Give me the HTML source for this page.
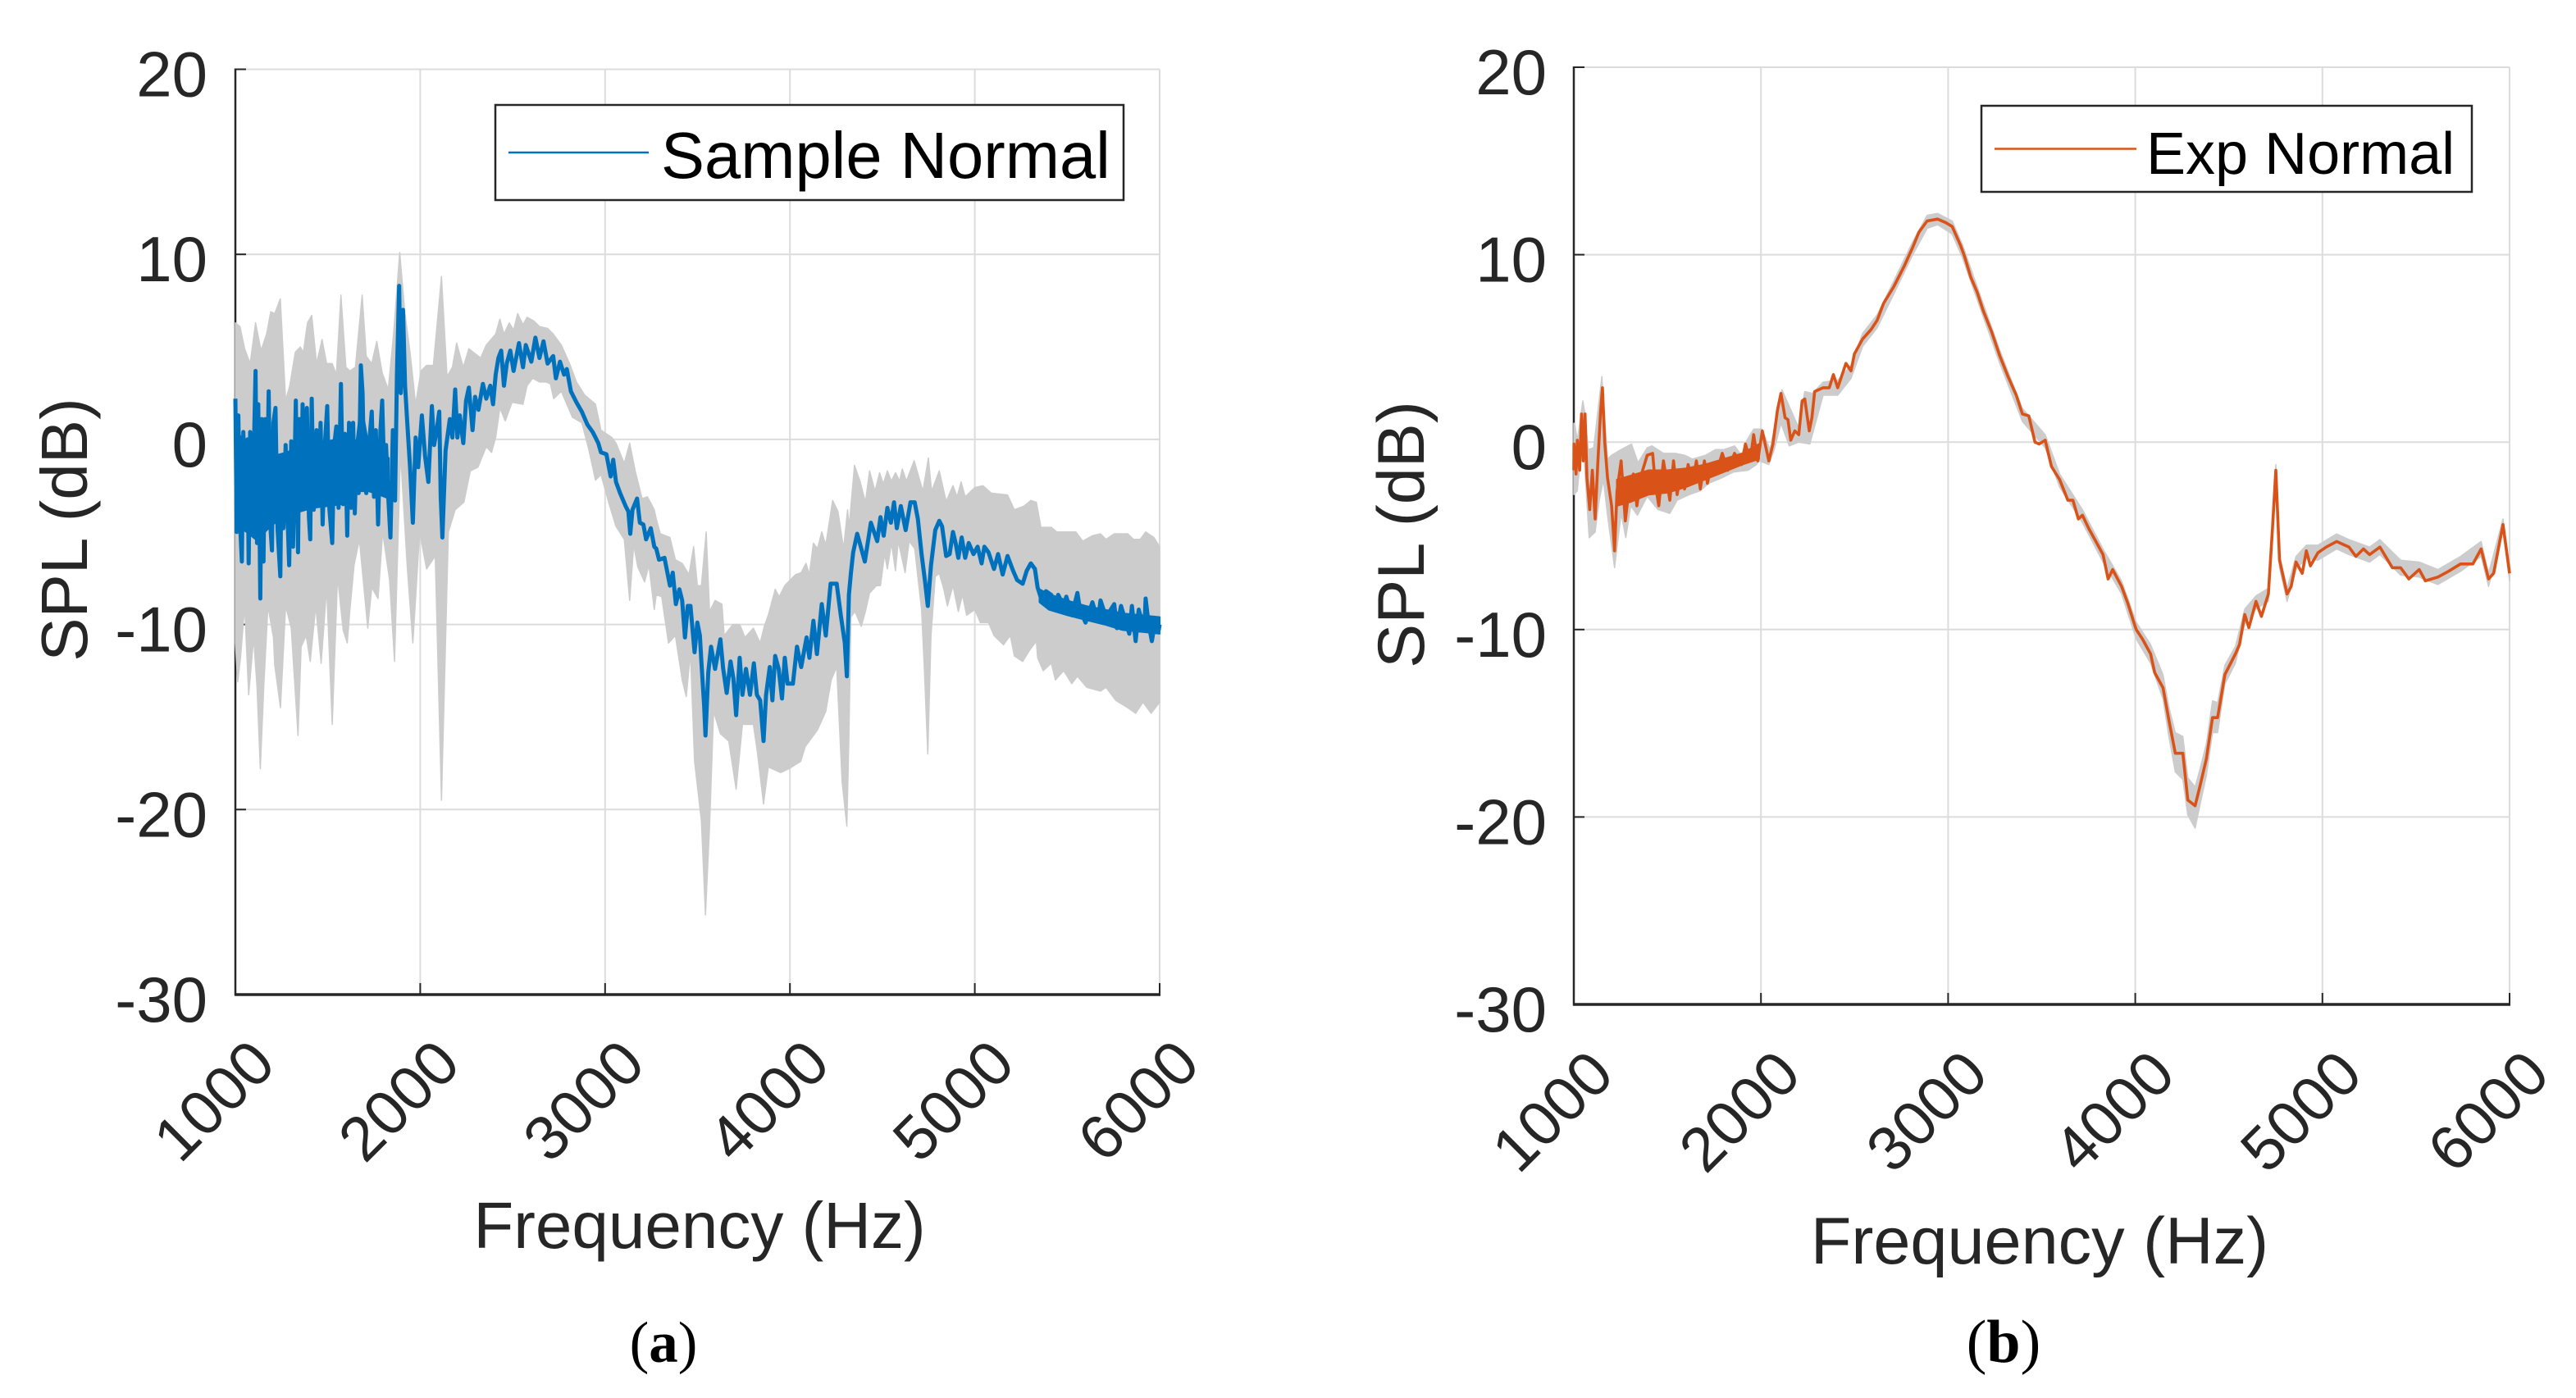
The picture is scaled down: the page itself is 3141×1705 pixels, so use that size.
<!DOCTYPE html>
<html>
<head>
<meta charset="utf-8">
<title>SPL frequency response charts</title>
<style>
html,body{margin:0;padding:0;background:#fff;}
svg{display:block;}
text{font-family:"Liberation Sans",Arial,sans-serif;fill:#262626;}
.cap{font-family:"Liberation Serif","Times New Roman",serif;fill:#000;}
</style>
</head>
<body>
<svg id="figure" width="3141" height="1705" viewBox="0 0 3141 1705" xmlns="http://www.w3.org/2000/svg">
  <rect x="0" y="0" width="3141" height="1705" fill="#ffffff"/>
  <g id="panelA"></g>
  <g id="panelB"></g>

  <g>
    <rect x="604" y="128" width="766" height="116" fill="#fff" stroke="#262626" stroke-width="2.5"/>
    <line x1="620" y1="186" x2="791" y2="186" stroke="#0072BD" stroke-width="2.5"/>
    <text x="806" y="217" font-size="79.5" style="fill:#000">Sample Normal</text>
  </g>
  <g>
    <rect x="2416" y="129" width="598" height="105" fill="#fff" stroke="#262626" stroke-width="2.5"/>
    <line x1="2432" y1="181.5" x2="2605" y2="181.5" stroke="#D95319" stroke-width="2.5"/>
    <text x="2617" y="212" font-size="72" style="fill:#000">Exp Normal</text>
  </g>

  <text transform="translate(106,646) rotate(-90)" text-anchor="middle" font-size="80">SPL (dB)</text>
  <text x="853" y="1522" text-anchor="middle" font-size="80">Frequency (Hz)</text>
  <text transform="translate(1736,652) rotate(-90)" text-anchor="middle" font-size="81">SPL (dB)</text>
  <text x="2487" y="1541" text-anchor="middle" font-size="81">Frequency (Hz)</text>

  <text class="cap" x="809" y="1661" text-anchor="middle" font-size="71">(<tspan font-weight="bold">a</tspan>)</text>
  <text class="cap" x="2443" y="1661" text-anchor="middle" font-size="74">(<tspan font-weight="bold">b</tspan>)</text>
</svg>
<script>
var xTickValues = [1000, 2000, 3000, 4000, 5000, 6000];
var yTickValues = [20, 10, 0, -10, -20, -30];

var freqA = [1000,1007,1016,1025,1035,1043,1055,1065,1072,1080,1090,1099,1109,1117,1124,1135,1143,1152,1161,1170,1180,1191,1198,1206,1217,1228,1243,1250,1260,1272,1282,1291,1302,1312,1327,1339,1346,1356,1364,1374,1387,1398,1405,1413,1424,1439,1450,1461,1472,1484,1497,1509,1524,1535,1546,1558,1571,1583,1593,1605,1615,1627,1637,1646,1657,1667,1679,1688,1697,1708,1723,1738,1750,1760,1772,1785,1794,1805,1815,1827,1839,1852,1864,1874,1886,1895,1907,1918,1930,1945,1960,1975,1989,2009,2026,2044,2063,2075,2089,2103,2111,2120,2137,2160,2174,2189,2201,2214,2233,2248,2263,
2283,2297,2315,2339,2357,2379,2394,2408,2423,2438,2453,2468,2487,2505,2534,2556,2571,2601,2623,2645,2667,2689,2719,2734,2756,2778,2793,2815,2845,2874,2904,2933,2948,2963,2978,3007,3030,3044,3059,3081,3111,3126,3136,3148,3173,3188,3207,3222,3247,3266,
3277,3292,3321,3351,3366,3383,3402,3417,3432,3447,3462,3484,3499,3513,3521,3536,3543,3558,3573,3595,3624,3639,3658,3679,3694,3709,3728,3743,3762,3784,3805,3821,3839,3857,3871,3891,3905,3920,3939,3957,3972,3987,4016,4038,4061,4090,4105,4127,4146,4172,4194,4220,4253,4275,4297,4308,4319,4330,4342,4364,4386,4405,4438,4472,4490,4507,4527,4546,4563,4578,4600,
4626,4652,4675,4692,4712,4731,4746,4763,4786,4808,4823,4845,4864,4882,4896,4911,4929,4948,4967,4993,5015,5037,5052,5074,5104,5126,5151,5177,5207,5229,5259,5281,5303,5325,5340,5362,5385,5414,5436,5451,5481,5495,5525,5555,5569,5599,5636,5666,5680,5710,5754,5769,5791,5836,5850,5870,5887,5917,5924,5939,5958,5976,5995,6000];
var meanA = [2.2,-5.0,1.3,-4.4,-6.6,0.4,-4.6,0.0,-6.7,0.4,-5.0,-1.1,3.7,-5.6,1.9,-8.6,1.1,-6.6,1.1,-4.2,2.6,-5.0,-6.0,0.9,1.7,-4.8,-7.4,-0.9,-4.8,-0.3,-4.2,-6.8,-0.1,-5.8,2.1,-6.1,1.1,-3.1,1.9,-3.7,1.7,-4.2,-5.4,2.2,-3.8,0.5,-3.5,0.9,-4.6,-0.3,1.8,-3.8,-5.6,-0.3,0.7,-3.7,3.0,-3.5,0.3,-5.2,0.9,-3.7,0.9,-4.0,-0.1,-2.9,4.0,2.5,-2.1,-2.9,-0.3,1.5,-3.1,0.5,-4.6,0.5,2.1,-1.7,-0.3,-3.1,-5.3,0.5,-3.3,3.5,8.3,2.5,7.0,2.9,0.9,-1.5,-4.5,0.1,-1.5,1.3,-0.9,-2.3,1.8,-0.3,0.5,1.5,-3.1,-5.3,-0.6,1.1,0.1,2.7,0.1,1.3,-0.2,2.1,2.8,
0.5,2.3,1.6,3.0,2.2,2.9,1.9,3.5,4.4,4.8,2.9,4.1,4.8,3.7,5.2,3.9,5.1,4.2,5.5,4.4,5.3,4.1,4.5,3.3,4.2,3.5,3.8,2.6,2.0,1.5,0.8,0.4,0.1,-0.2,-0.7,-0.8,-2.0,-1.1,-2.3,-2.9,-3.6,-3.9,-5.1,-3.8,-3.2,-4.5,-4.6,-5.4,-4.8,-5.8,
-5.9,-6.5,-6.4,-7.9,-7.2,-8.9,-8.1,-8.7,-10.7,-9.0,-9.0,-11.5,-9.9,-10.6,-12.0,-14.4,-16.0,-12.6,-11.2,-12.4,-10.8,-12.4,-13.7,-12.0,-12.9,-14.9,-11.8,-13.8,-12.4,-13.8,-12.1,-13.8,-14.1,-16.3,-13.8,-12.3,-14.1,-11.7,-12.4,-14.0,-11.8,-13.2,-13.2,-11.2,-12.3,-10.7,-11.8,-9.8,-11.6,-8.9,-10.6,-7.8,-7.8,-9.5,-11.0,-12.8,-8.4,-7.2,-6.1,-5.1,-5.9,-6.6,-4.5,-5.5,-4.2,-5.2,-3.7,-4.5,-3.4,-4.8,-3.6,
-4.9,-3.4,-3.4,-4.3,-6.2,-7.7,-9.0,-6.8,-4.9,-4.4,-4.7,-6.3,-6.2,-5.0,-5.6,-6.4,-5.3,-6.4,-5.6,-6.2,-5.8,-6.7,-5.8,-6.1,-7.0,-6.2,-7.3,-6.3,-7.1,-7.6,-7.8,-7.1,-6.7,-7.0,-8.0,-8.7,-8.2,-8.4,-9.2,-8.4,-9.0,-8.5,-9.5,-8.3,-9.2,-9.9,-8.8,-9.8,-8.7,-9.6,-8.9,-10.2,-9.0,-10.5,-9.0,-10.9,-9.2,-10.3,-8.6,-9.9,-10.9,-9.8,-10.3,-10.0];

var coreLowFreqA = [1000,1060,1110,1160,1200,1280,1350,1420,1500,1580,1650,1680,1720,1780,1830];
var coreLowUpperA = [0.5,-0.2,-0.6,-1.1,-0.9,-0.7,-0.3,-0.3,-0.1,0.1,-0.5,2.0,-0.3,-0.6,-1.0];
var coreLowLowerA = [-4.6,-5.0,-5.4,-5.0,-4.6,-4.2,-3.9,-3.7,-3.6,-3.5,-2.8,-2.8,-2.8,-3.0,-3.2];

var coreHighFreqA = [5350,5400,5500,5600,5700,5800,5900,6000];
var coreHighUpperA = [-8.1,-8.35,-8.7,-9.0,-9.2,-9.4,-9.5,-9.6];
var coreHighLowerA = [-8.8,-9.2,-9.5,-9.75,-10.0,-10.3,-10.4,-10.5];

var upperFreqA = [1000,1025,1050,1080,1109,1139,1169,1191,1213,1243,1272,1294,1324,1351,1368,1390,1413,1439,1469,1494,1524,1546,1571,1598,1620,1649,1686,1708,1738,1765,1794,1827,1856,1889,1916,1945,1975,2004,2034,2071,2115,2145,2174,2197,2233,2263,
2327,2357,2408,2431,2453,2482,2505,2527,2556,2578,2615,2645,2689,2719,2763,2808,2845,2889,2948,2978,3037,3059,3104,3133,3163,3200,3229,3266,
3277,3299,3351,3380,3417,3454,3479,3499,3521,3547,3565,3595,3632,3644,3691,3728,3757,3802,3839,3861,3883,3920,3942,3972,4031,4061,4087,4105,4127,4149,4172,4194,4231,4260,4290,4312,
4320,4349,4379,4408,4431,4460,4485,4505,4527,4549,4571,4593,4608,4630,4672,4719,4749,4766,4808,4845,4882,4904,4926,4948,5000,5044,5089,5177,5214,5266,5303,5333,5358,5414,5444,5495,5547,5584,5636,5680,5710,5754,5828,5858,5895,5924,5969,6000];
var upperA = [6.3,6.1,4.9,4.1,6.3,4.8,5.7,6.9,6.8,7.6,2.1,2.9,4.7,5.0,4.7,6.3,6.7,4.1,5.4,4.1,4.1,3.5,7.8,3.9,3.7,3.9,7.8,4.5,4.1,5.3,3.6,2.7,5.7,10.1,6.9,4.7,1.9,3.7,4.0,4.0,8.8,3.4,3.9,5.2,3.9,4.9,
4.4,5.1,5.7,6.5,5.7,6.3,5.9,6.8,6.2,6.6,6.4,6.1,6.0,5.7,5.1,4.1,3.1,2.4,1.9,0.5,0.1,-0.2,-1.3,-0.2,-1.7,-3.2,-3.1,-3.8,
-4.3,-5.1,-5.3,-6.5,-6.7,-7.3,-5.8,-7.9,-7.9,-5.0,-9.3,-8.7,-8.9,-10.6,-10.0,-10.0,-10.7,-10.2,-11.0,-10.1,-9.5,-8.1,-8.5,-7.9,-7.3,-7.2,-6.7,-7.3,-5.6,-5.9,-5.0,-5.7,-3.3,-3.9,-5.9,-3.8,
-4.75,-1.4,-2.25,-3.4,-1.7,-2.8,-1.8,-2.4,-1.7,-2.25,-1.8,-2.25,-1.6,-2.25,-1.15,-2.8,-1.0,-2.8,-1.7,-3.35,-2.5,-3.1,-2.3,-3.1,-2.6,-2.5,-2.9,-3.0,-3.8,-3.6,-3.3,-3.4,-4.75,-4.75,-5.0,-5.0,-5.0,-5.5,-5.2,-5.1,-5.4,-5.1,-5.1,-5.4,-5.4,-5.0,-5.3,-5.8];

var lowerFreqA = [1000,1013,1028,1050,1072,1099,1117,1135,1154,1176,1206,1213,1244,1272,1302,1339,1356,1383,1405,1435,1464,1494,1524,1553,1583,1605,1620,1642,1671,1716,1738,1772,1797,1834,1861,1893,1930,1960,1997,2034,2081,2115,2152,2189,2236,2271,
2312,2357,2386,2408,2431,2460,2497,2556,2578,2608,2645,2682,2704,2722,2763,2793,2823,2874,2911,2948,2978,3022,3059,3104,3133,3155,3177,3214,3237,3266,
3277,3306,3343,3380,3417,3439,3462,3484,3521,3543,3565,3587,3624,3669,3709,3743,3802,3824,3857,3883,3950,3994,4058,4083,4149,4194,4223,4253,4282,4308,4319,4330,
4352,4386,4408,4431,4468,4490,4512,4527,4549,4571,4586,4623,4645,4675,4712,4726,4746,4763,4786,4808,4830,4852,4882,4911,4933,4956,5000,5030,5074,5104,5155,5192,5214,5259,5296,5333,5340,5370,5414,5436,5481,5525,5555,5606,5680,5710,5762,5828,5870,5910,5954,6000];
var lowerA = [-11.0,-13.1,-11.8,-9.0,-13.8,-10.7,-13.4,-17.8,-13.3,-9.0,-10.7,-12.2,-14.5,-9.0,-10.2,-16.0,-11.2,-10.6,-12.0,-9.0,-12.1,-8.0,-15.4,-7.4,-10.3,-11.0,-9.2,-6.8,-5.4,-10.2,-8.0,-8.6,-5.0,-7.6,-12.0,-0.7,-6.9,-11.0,-5.0,-7.0,-6.3,-19.5,-5.0,-3.8,-3.4,-1.7,
-1.5,-0.4,-0.7,0.1,1.7,1.0,2.0,1.9,2.9,3.3,3.1,3.1,3.0,2.2,2.6,1.9,1.2,0.9,-0.5,-2.2,-1.9,-3.5,-4.7,-5.4,-8.7,-5.7,-6.9,-7.7,-6.8,-9.2,
-8.4,-8.5,-11.0,-10.6,-13.0,-13.9,-11.5,-17.4,-20.6,-25.7,-20.9,-14.7,-15.9,-16.3,-18.9,-15.4,-15.4,-16.9,-19.7,-17.7,-18.0,-17.8,-17.4,-16.6,-15.7,-14.7,-13.0,-12.3,-18.5,-20.9,-16.1,-9.6,
-9.3,-10.1,-9.3,-8.3,-7.9,-7.9,-6.2,-7.0,-5.6,-7.1,-5.5,-7.2,-5.5,-5.9,-9.2,-12.1,-17.0,-10.6,-7.4,-7.25,-8.0,-9.0,-7.9,-9.3,-8.4,-9.5,-9.2,-9.9,-9.9,-10.6,-11.1,-10.6,-11.7,-12.0,-11.4,-10.9,-11.8,-12.5,-12.1,-13.0,-12.5,-13.2,-12.8,-13.4,-13.6,-13.4,-14.1,-14.5,-14.8,-14.2,-14.8,-14.2];

var freqB = [1000,1001,1012,1019,1031,1041,1051,1060,1070,1085,1099,1114,1129,1143,1153,1165,1180,1202,1218,1231,1253,1275,1297,1318,1337,1362,1392,1421,1435,1454,1479,1513,1533,1552,1574,1592,1611,1633,1655,1676,1698,1714,1735,1764,1793,1823,1859,1896,1917,1942,1961,1983,2007,2042,2064,2088,2107,2129,2144,2159,2181,2202,2220,2234,2258,2272,2287,2332,2365,2387,2410,2454,2481,2499,2543,2588,2621,2655,2710,2766,2811,2844,2888,2944,2989,3022,
3066,3088,3121,3155,3188,3232,3276,3320,3364,3397,3431,3464,3486,3519,3552,3596,3640,3667,3696,3718,3751,3795,3828,3855,3879,3927,3960,4005,4038,4082,4104,4148,4181,4214,4254,4281,4320,4347,4380,4413,4440,4479,4535,4557,4585,4607,4645,4674,4711,4733,4751,4771,4811,4833,4859,4892,4914,4936,4976,5020,5076,5142,5179,5219,5252,5307,5374,5418,5462,5517,5550,5617,5672,5738,5804,5848,5888,5915,5965,6000];
var meanB = [-1.5,-0.1,-1.7,0.1,-1.5,1.5,-1.0,1.5,-1.9,-3.6,-1.5,-4.1,-1.0,1.6,2.9,0.0,-1.9,-3.4,-5.8,-2.6,-1.0,-4.2,-2.3,-1.7,-3.4,-1.7,-0.7,-0.6,-2.2,-3.4,-1.0,-3.1,-1.0,-2.8,-1.5,-2.5,-1.2,-2.2,-1.0,-2.5,-1.0,-2.2,-1.2,-1.6,-0.6,-1.5,-0.6,-1.2,-0.1,-1.0,0.4,-1.0,0.6,-1.0,-0.1,1.7,2.6,1.3,1.2,0.1,0.6,0.4,2.2,2.3,0.6,1.3,2.7,2.9,2.9,3.6,2.9,4.2,3.8,4.7,5.5,6.0,6.5,7.4,8.3,9.4,10.4,11.2,11.8,11.9,11.7,11.5,
10.5,9.9,8.8,8.0,7.0,5.9,4.6,3.5,2.5,1.5,1.4,0.0,-0.1,0.1,-1.3,-2.0,-3.1,-3.1,-4.1,-3.9,-4.6,-5.4,-6.0,-7.3,-6.8,-7.7,-8.6,-10.0,-10.5,-11.3,-12.3,-13.1,-14.9,-16.6,-16.6,-19.1,-19.4,-18.3,-16.9,-14.7,-14.7,-12.4,-11.3,-10.8,-9.2,-9.9,-8.5,-9.3,-8.1,-4.6,-1.5,-6.3,-8.1,-7.7,-6.4,-7.0,-5.8,-6.6,-5.9,-5.6,-5.3,-5.6,-6.1,-5.7,-6.0,-5.6,-6.7,-6.7,-7.3,-6.8,-7.4,-7.2,-6.9,-6.5,-6.5,-5.7,-7.3,-7.0,-4.4,-7.0];

var coreFreqB = [1230,1300,1400,1500,1600,1700,1800,1900,1990];
var coreUpperB = [-2.0,-1.8,-1.5,-1.5,-1.4,-1.2,-0.9,-0.6,-0.1];
var coreLowerB = [-3.4,-3.2,-2.8,-2.7,-2.4,-2.0,-1.6,-1.2,-0.9];

var upperFreqB = [1000,1004,1019,1048,1060,1077,1106,1150,1180,1202,1253,1308,1343,1392,1417,1479,1542,1592,1633,1705,1757,1801,1859,1896,1925,1961,2005,2049,2085,2112,2200,2234,2275,2332,2410,2481,2543,2621,2710,2811,2888,2944,3022,3078,3155,3276,3397,3519,3596,3718,3828,3927,4005,4082,4148,4181,4214,4254,4281,4320,4347,4380,4413,4440,4479,4535,4585,4645,4711,4733,4751,4771,4811,4859,4914,4976,5076,5142,5252,5307,5418,5517,5617,5738,5848,5888,5965,6000];
var upperB = [1.0,1.0,0.1,2.2,1.5,-0.4,-0.3,3.5,-0.9,-0.7,-0.4,-0.1,-1.1,-0.3,-0.2,-0.6,-0.6,-0.7,-0.9,-0.7,-0.4,-0.4,-0.2,-0.7,0.1,0.7,0.7,-0.4,1.5,2.8,0.8,2.7,2.6,3.2,3.3,4.1,5.8,6.8,8.6,10.7,12.1,12.2,11.8,10.5,8.3,4.9,1.8,0.4,-1.7,-3.6,-5.7,-7.4,-9.6,-10.8,-12.4,-14.2,-15.5,-15.7,-17.9,-18.4,-17.4,-16.1,-13.8,-13.9,-11.9,-10.9,-8.9,-8.2,-7.8,-4.3,-1.2,-6.0,-7.8,-6.1,-5.5,-5.5,-4.9,-5.2,-5.6,-5.2,-6.3,-6.4,-6.8,-6.1,-5.3,-7.0,-4.1,-6.7];

var lowerFreqB = [1000,1019,1034,1056,1082,1114,1136,1158,1180,1218,1253,1278,1304,1340,1392,1450,1513,1552,1618,1676,1720,1793,1852,1932,1976,1991,2042,2071,2107,2151,2202,2261,2332,2410,2481,2543,2621,2710,2811,2888,2944,3022,3078,3155,3276,3397,3519,3596,3718,3828,3927,4005,4082,4148,4181,4214,4254,4281,4320,4347,4380,4413,4440,4479,4535,4585,4645,4711,4733,4751,4771,4811,4859,4914,4976,5076,5142,5252,5307,5418,5517,5617,5738,5848,5888,5965,6000];
var lowerB = [-2.8,-2.6,-1.0,-1.0,-5.1,-4.8,-3.1,-2.0,-3.9,-6.7,-3.8,-5.1,-3.4,-3.9,-2.9,-3.6,-3.8,-3.1,-2.8,-2.6,-2.2,-1.9,-1.6,-1.5,-1.2,-1.0,-1.2,-0.4,1.0,-0.2,0.0,-0.1,2.5,2.5,3.4,5.1,6.1,7.9,10.0,11.4,11.6,11.1,9.8,7.6,4.2,1.1,-0.3,-2.4,-4.3,-6.4,-8.1,-10.5,-11.8,-13.7,-15.8,-17.6,-18.0,-19.9,-20.6,-19.3,-17.8,-15.5,-15.5,-12.9,-11.8,-9.7,-8.9,-8.5,-5.0,-2.2,-6.7,-8.5,-6.8,-6.2,-6.3,-5.7,-6.0,-6.4,-6.0,-7.1,-7.2,-7.6,-6.9,-6.1,-7.7,-4.7,-7.4];

var NS = 'http://www.w3.org/2000/svg';

function makeEl(tag, attrs, parent) {
  var el = document.createElementNS(NS, tag);
  for (var k in attrs) { el.setAttribute(k, attrs[k]); }
  parent.appendChild(el);
  return el;
}

function linePath(fx, fy, xs, ys) {
  var d = '';
  for (var i = 0; i < xs.length; i++) {
    d += (i ? 'L' : 'M') + fx(xs[i]).toFixed(1) + ' ' + fy(ys[i]).toFixed(1);
  }
  return d;
}

function bandPath(fx, fy, upX, upY, loX, loY) {
  var upperD = linePath(fx, fy, upX, upY);
  var lowerD = linePath(fx, fy, loX.slice().reverse(), loY.slice().reverse()).replace('M', 'L');
  return upperD + lowerD + 'Z';
}

function drawPanel(root, cfg) {
  var fx = function (v) { return cfg.left + (v - 1000) / 5000 * (cfg.right - cfg.left); };
  var fy = function (v) { return cfg.top + (20 - v) / 50 * (cfg.bottom - cfg.top); };
  var el;

  xTickValues.forEach(function (v) {
    var grid = makeEl('line', { x1: fx(v), x2: fx(v), y1: cfg.top, y2: cfg.bottom, stroke: '#dcdcdc', 'stroke-width': 2 }, root);
    
    
  });
  yTickValues.forEach(function (v) {
    var grid = makeEl('line', { x1: cfg.left, x2: cfg.right, y1: fy(v), y2: fy(v), stroke: '#dcdcdc', 'stroke-width': 2 }, root);
    
    
  });

  el = makeEl('line', { x1: cfg.left, x2: cfg.left, y1: cfg.top - 1, y2: cfg.bottom + 1, stroke: '#262626', 'stroke-width': 2.5 }, root);
  
  
  el = makeEl('line', { x1: cfg.left - 1, x2: cfg.right + 1, y1: cfg.bottom, y2: cfg.bottom, stroke: '#262626', 'stroke-width': 3.5 }, root);
  
  

  xTickValues.forEach(function (v) {
    var tick = makeEl('line', { x1: fx(v), x2: fx(v), y1: cfg.bottom, y2: cfg.bottom - 14, stroke: '#262626', 'stroke-width': 2 }, root);
    
    
    var label = makeEl('text', { transform: 'translate(' + (fx(v) + 52) + ',' + cfg.xLabelY + ') rotate(-45)', 'text-anchor': 'end', 'font-size': 76 }, root);
    
    
    label.textContent = String(v);
  });
  yTickValues.forEach(function (v) {
    var tick = makeEl('line', { x1: cfg.left, x2: cfg.left + 13, y1: fy(v), y2: fy(v), stroke: '#262626', 'stroke-width': 2 }, root);
    
    
    var label = makeEl('text', { x: cfg.yLabelX, y: fy(v) + 33, 'text-anchor': 'end', 'font-size': 78 }, root);
    
    
    label.textContent = String(v);
  });

  el = makeEl('path', { d: bandPath(fx, fy, cfg.upperX, cfg.upperY, cfg.lowerX, cfg.lowerY), fill: '#cccccc', stroke: '#cccccc', 'stroke-width': 1.5, 'stroke-linejoin': 'round' }, root);
  
  

  cfg.cores.forEach(function (c) {
    var core = makeEl('path', { d: bandPath(fx, fy, c.x, c.up, c.x, c.lo), fill: cfg.color, stroke: cfg.color, 'stroke-width': 2, 'stroke-linejoin': 'round' }, root);
    
    
  });

  el = makeEl('path', { d: linePath(fx, fy, cfg.meanX, cfg.meanY), fill: 'none', stroke: cfg.color, 'stroke-width': cfg.lineWidth, 'stroke-linejoin': 'round' }, root);
  
  
}

drawPanel(document.getElementById('panelA'), {
  left: 287, right: 1414, top: 84.5, bottom: 1213,
  xLabelY: 1301, yLabelX: 253,
  color: '#0072BD', lineWidth: 5,
  meanX: freqA, meanY: meanA,
  upperX: upperFreqA, upperY: upperA,
  lowerX: lowerFreqA, lowerY: lowerA,
  cores: [
    { x: coreLowFreqA, up: coreLowUpperA, lo: coreLowLowerA },
    { x: coreHighFreqA, up: coreHighUpperA, lo: coreHighLowerA }
  ]
});

drawPanel(document.getElementById('panelB'), {
  left: 1919, right: 3060, top: 82, bottom: 1225,
  xLabelY: 1314, yLabelX: 1886,
  color: '#D95319', lineWidth: 3.6,
  meanX: freqB, meanY: meanB,
  upperX: upperFreqB, upperY: upperB,
  lowerX: lowerFreqB, lowerY: lowerB,
  cores: [
    { x: coreFreqB, up: coreUpperB, lo: coreLowerB }
  ]
});
</script>
</body>
</html>
